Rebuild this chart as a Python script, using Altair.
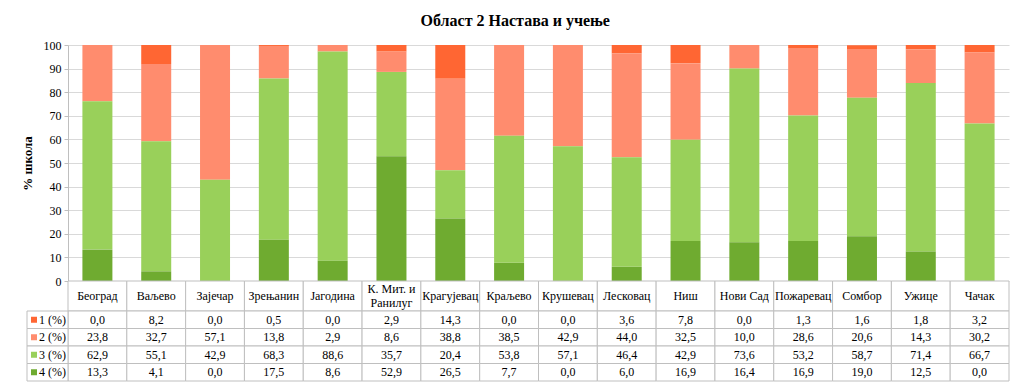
import altair as alt
import pandas as pd

categories = ["Београд", "Ваљево", "Зајечар", "Зрењанин", "Јагодина", "К. Мит. и\nРанилуг",
              "Крагујевац", "Краљево", "Крушевац", "Лесковац", "Ниш", "Нови Сад",
              "Пожаревац", "Сомбор", "Ужице", "Чачак"]
series_names = ["1 (%)", "2 (%)", "3 (%)", "4 (%)"]
s1 = [0.0, 8.2, 0.0, 0.5, 0.0, 2.9, 14.3, 0.0, 0.0, 3.6, 7.8, 0.0, 1.3, 1.6, 1.8, 3.2]
s2 = [23.8, 32.7, 57.1, 13.8, 2.9, 8.6, 38.8, 38.5, 42.9, 44.0, 32.5, 10.0, 28.6, 20.6, 14.3, 30.2]
s3 = [62.9, 55.1, 42.9, 68.3, 88.6, 35.7, 20.4, 53.8, 57.1, 46.4, 42.9, 73.6, 53.2, 58.7, 71.4, 66.7]
s4 = [13.3, 4.1, 0.0, 17.5, 8.6, 52.9, 26.5, 7.7, 0.0, 6.0, 16.9, 16.4, 16.9, 19.0, 12.5, 0.0]
colors = ["#FF6633", "#FF8C6E", "#99D05A", "#6FAB30"]

rows = []
for k, (name, vals) in enumerate(zip(series_names, [s1, s2, s3, s4])):
    for c, v in zip(categories, vals):
        rows.append({"category": c, "series": name, "value": v, "ord": k + 1})
df = pd.DataFrame(rows)
hdr = pd.DataFrame({"category": categories})
leg = pd.DataFrame({"series": series_names})

FONT = "Liberation Serif"
GRID = "#D9D9D9"
LINE = "#BFBFBF"
W = 941

color_enc = alt.Color("series:N", scale=alt.Scale(domain=series_names, range=colors), legend=None)

bars = alt.Chart(df).mark_bar().encode(
    x=alt.X("category:N", sort=categories,
            scale=alt.Scale(paddingInner=0.49, paddingOuter=0.245), axis=None),
    y=alt.Y("value:Q", stack="zero",
            scale=alt.Scale(domain=[0, 100], nice=False, clamp=True),
            axis=alt.Axis(values=list(range(0, 101, 10)), title="% школа",
                          titleFont=FONT, titleFontSize=13, titleFontWeight="bold",
                          titleColor="black", titlePadding=9,
                          labelFont=FONT, labelFontSize=12, labelColor="black",
                          labelPadding=3, tickSize=4, tickColor=LINE,
                          domainColor=LINE, gridColor=GRID)),
    color=color_enc,
    order=alt.Order("ord:Q", sort="descending"),
).properties(width=W, height=236)

xt = alt.X("category:N", sort=categories, scale=alt.Scale(padding=0), axis=None)
yt = alt.Y("series:N", sort=series_names, scale=alt.Scale(padding=0), axis=None)

hdr_cells = alt.Chart(hdr).mark_rect(fill="white", stroke=LINE, strokeWidth=1).encode(x=xt)
hdr_text1 = alt.Chart(hdr).transform_filter(
    "indexof(datum.category, '\\n') < 0"
).mark_text(font=FONT, fontSize=12, color="black").encode(x=xt, text="category:N")
hdr_text2 = alt.Chart(hdr).transform_filter(
    "indexof(datum.category, '\\n') >= 0"
).mark_text(lineBreak="\n", lineHeight=14, dy=-7, font=FONT, fontSize=12,
            color="black").encode(x=xt, text="category:N")
header = alt.layer(hdr_cells, hdr_text1, hdr_text2).properties(width=W, height=30)

val_cells = alt.Chart(df).mark_rect(fill="white", stroke=LINE, strokeWidth=1).encode(x=xt, y=yt)
vals_text = alt.Chart(df).transform_calculate(
    label="replace(format(datum.value, '.1f'), '.', ',')"
).mark_text(font=FONT, fontSize=12, color="black").encode(x=xt, y=yt, text="label:N")

left_cells = alt.Chart(leg).mark_rect(fill="white", stroke=LINE, strokeWidth=1).encode(
    x=alt.value(-41), x2=alt.value(0), y=yt)
swatches = alt.Chart(leg).mark_square(size=36, opacity=1).encode(
    x=alt.value(-34), y=yt, color=color_enc)
labels = alt.Chart(leg).mark_text(font=FONT, fontSize=12, color="black", align="left").encode(
    x=alt.value(-29), y=yt, text="series:N")

table = alt.layer(val_cells, left_cells, vals_text, swatches, labels).properties(width=W, height=70)

chart = alt.vconcat(bars, header, table, spacing=0, bounds="flush").properties(
    title=alt.TitleParams("Област 2 Настава и учење", font=FONT, fontSize=16,
                          fontWeight="bold", color="black", anchor="middle", offset=10),
    padding={"left": 13, "top": 5, "right": 0, "bottom": 0},
).configure_view(stroke=None)

chart.save("out.html", embed_options={"renderer": "svg", "actions": False})
